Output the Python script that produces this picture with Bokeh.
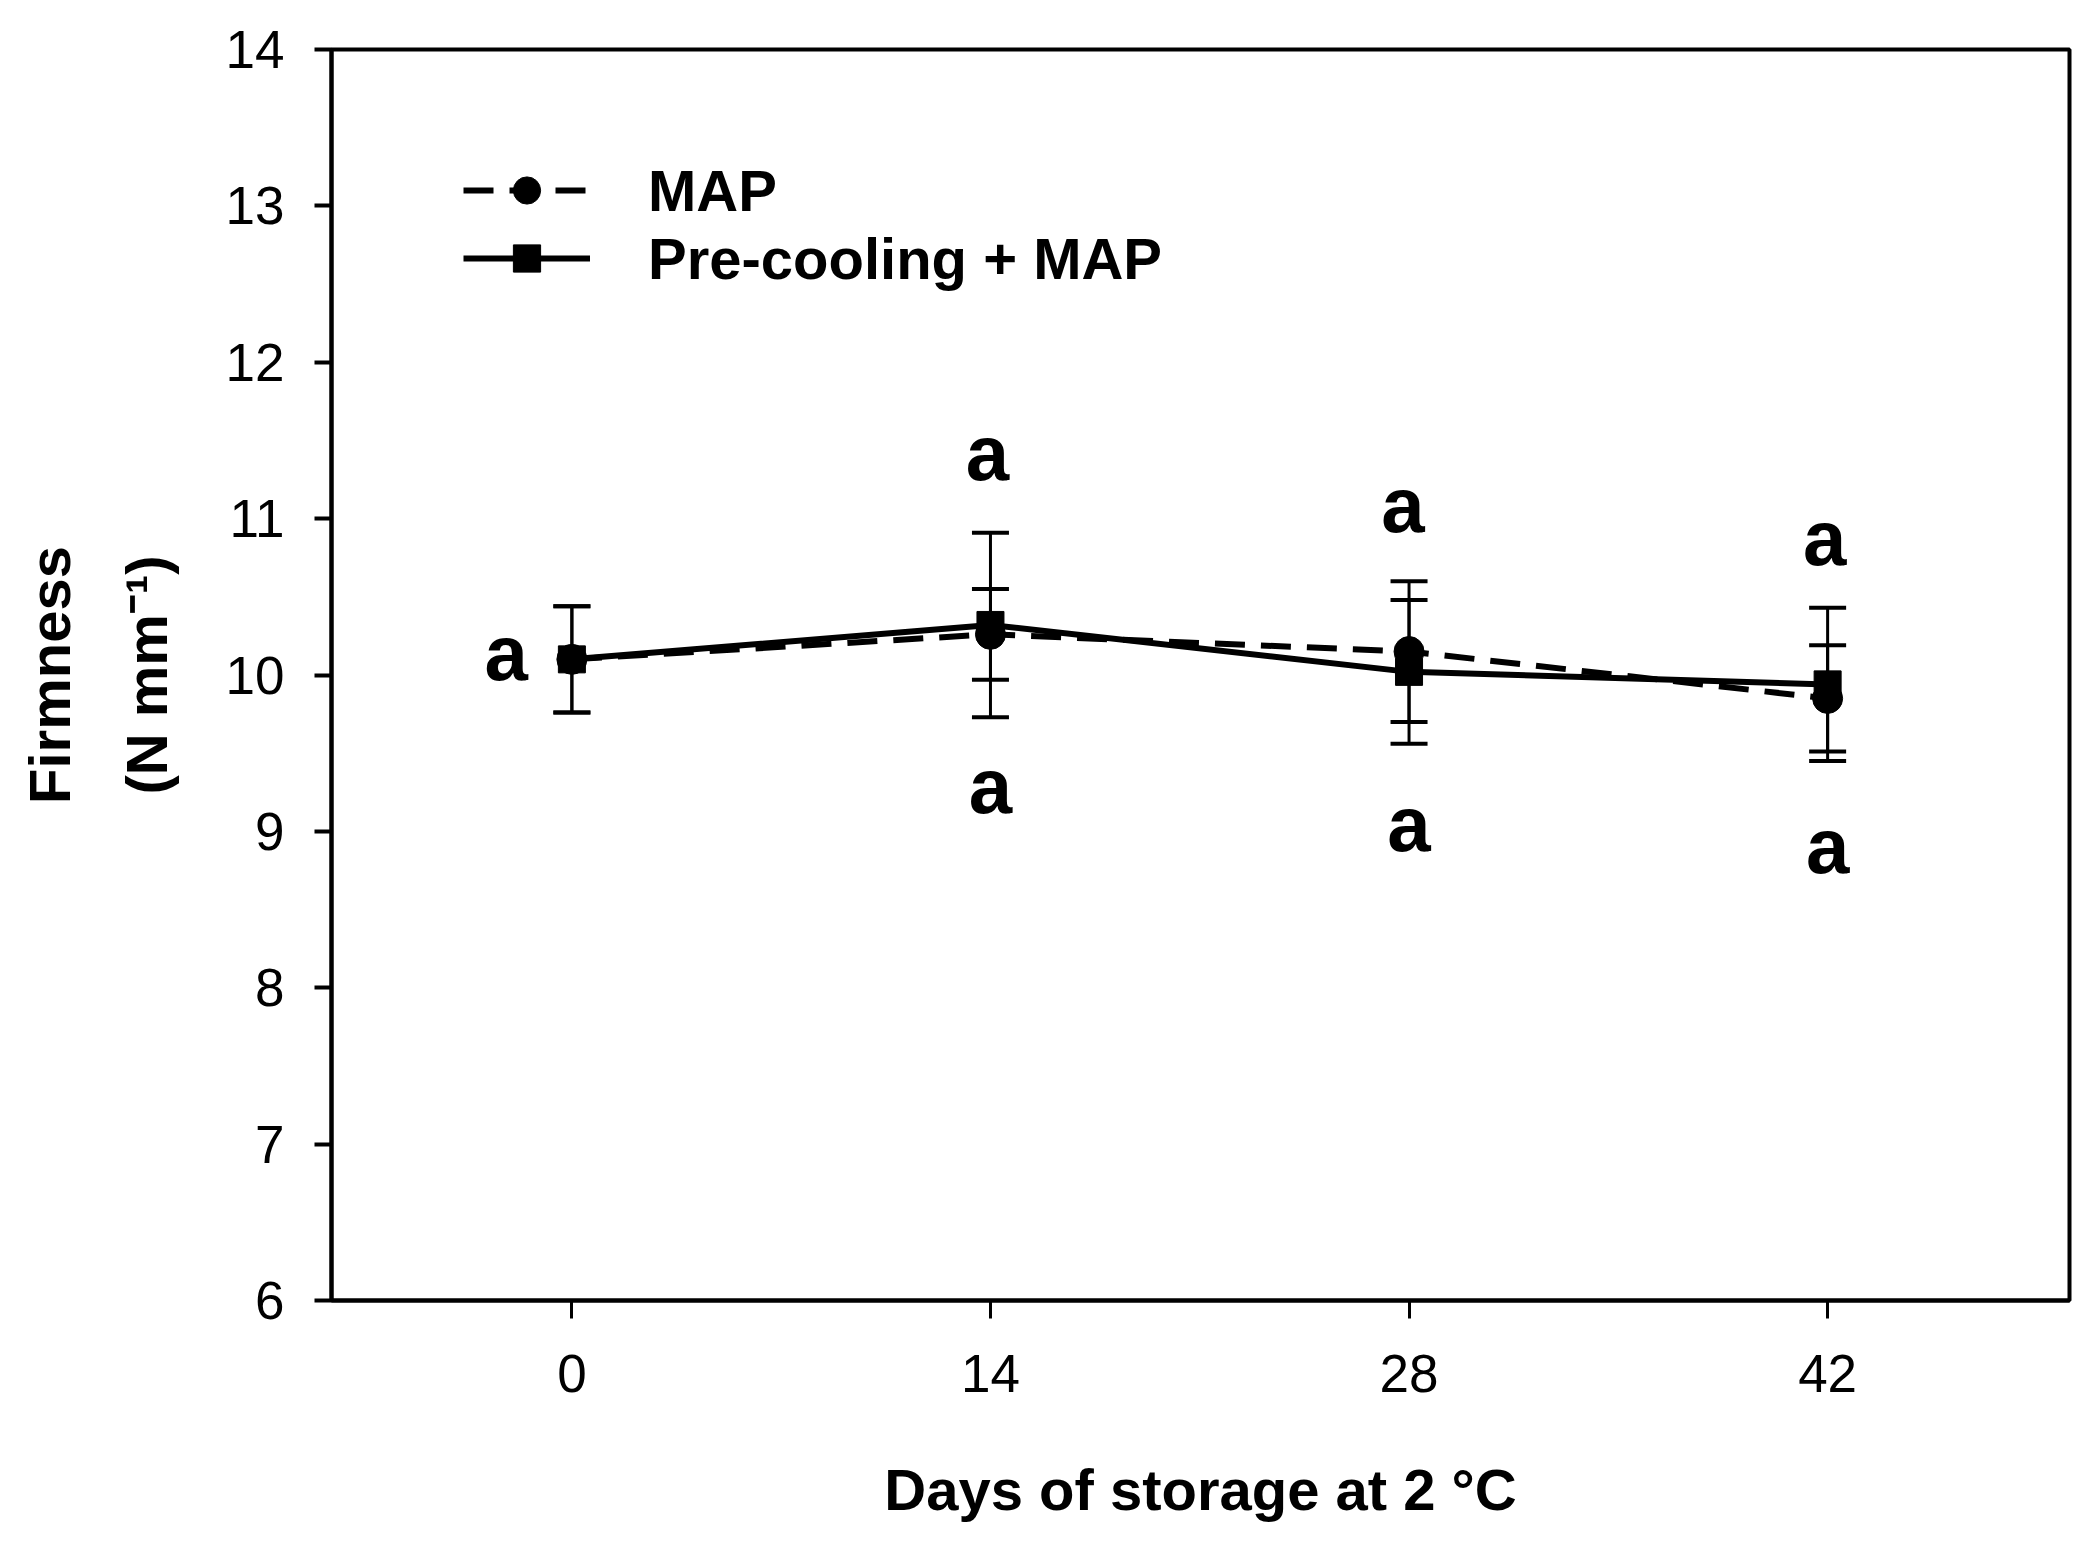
from bokeh.plotting import figure
from bokeh.models import (Whisker, TeeHead, ColumnDataSource, Legend, LegendItem,
                          FixedTicker, Range1d)
from bokeh.core.properties import value
from bokeh.embed import file_html
from bokeh.resources import INLINE

# ---- data ----
days = [0, 14, 28, 42]
map_mean = [10.10, 10.26, 10.15, 9.85]
map_err = [0.34, 0.29, 0.45, 0.34]
pre_mean = [10.10, 10.32, 10.02, 9.94]
pre_err = [0.34, 0.59, 0.46, 0.49]

letter_x = [-2.2, 13.9, 27.8, 41.9, 14.0, 28.0, 42.0]
letter_y = [10.10, 11.38, 11.05, 10.84, 9.25, 9.01, 8.87]
letter_t = ["a", "a", "a", "a", "a", "a", "a"]

x_ticks = [0, 14, 28, 42]
y_ticks = [6, 7, 8, 9, 10, 11, 12, 13, 14]

FONT = "Liberation Sans"

p = figure(width=2081, height=1526, output_backend="svg", toolbar_location=None,
           x_range=Range1d(-8.04, 50.09), y_range=Range1d(6, 14),
           min_border_left=331, min_border_right=12, min_border_top=49,
           min_border_bottom=226)

p.xgrid.visible = False
p.ygrid.visible = False
p.outline_line_color = "black"
p.outline_line_width = 4
p.outline_line_alpha = 1.0
p.background_fill_color = "white"
p.border_fill_color = "white"

for ax in (p.xaxis[0], p.yaxis[0]):
    ax.axis_line_width = 4
    ax.axis_line_color = "black"
    ax.major_tick_line_color = "black"
    ax.minor_tick_line_color = None
    ax.major_tick_in = 0
    ax.major_label_text_font = FONT
    ax.major_label_text_font_size = "53px"
    ax.major_label_text_color = "black"
    ax.axis_label_text_font = FONT
    ax.axis_label_text_font_size = "58px"
    ax.axis_label_text_font_style = "bold"
    ax.axis_label_text_color = "black"

p.xaxis.ticker = FixedTicker(ticks=x_ticks)
p.yaxis.ticker = FixedTicker(ticks=y_ticks)
p.xaxis.major_tick_out = 18
p.xaxis.major_tick_line_width = 3
p.yaxis.major_tick_out = 17
p.yaxis.major_tick_line_width = 4
p.xaxis.major_label_standoff = 36
p.yaxis.major_label_standoff = 30
p.xaxis.axis_label = "Days of storage at 2 \u00b0C"
p.xaxis.axis_label_standoff = 62
p.yaxis.axis_label = "Firmness\n(N mm\u207b\u00b9)"
p.yaxis.axis_label_text_line_height = 1.48
p.yaxis.axis_label_standoff = 44

# error bars
src_map = ColumnDataSource(dict(x=days, y=map_mean,
                                lo=[m - e for m, e in zip(map_mean, map_err)],
                                hi=[m + e for m, e in zip(map_mean, map_err)]))
src_pre = ColumnDataSource(dict(x=days, y=pre_mean,
                                lo=[m - e for m, e in zip(pre_mean, pre_err)],
                                hi=[m + e for m, e in zip(pre_mean, pre_err)]))
for src in (src_map, src_pre):
    w = Whisker(source=src, base="x", upper="hi", lower="lo",
                line_color="black", line_width=3,
                upper_head=TeeHead(size=37, line_width=4, line_color="black"),
                lower_head=TeeHead(size=37, line_width=4, line_color="black"))
    p.add_layout(w)

r1 = p.line("x", "y", source=src_map, line_color="black", line_width=6, line_dash="30 16")
r1m = p.scatter("x", "y", source=src_map, marker="circle", size=30,
                fill_color="black", line_color="black")
r2 = p.line("x", "y", source=src_pre, line_color="black", line_width=6)
r2m = p.scatter("x", "y", source=src_pre, marker="square", size=27,
                fill_color="black", line_color="black")

src_txt = ColumnDataSource(dict(x=letter_x, y=letter_y, t=letter_t))
p.text("x", "y", text="t", source=src_txt, text_font=value(FONT),
       text_font_style="bold", text_font_size="78px", text_align="center",
       text_baseline="alphabetic", y_offset=-6, text_color="black")

legend = Legend(items=[LegendItem(label="MAP", renderers=[r1, r1m]),
                       LegendItem(label="Pre-cooling + MAP", renderers=[r2, r2m])],
                location=(132, 1008), orientation="vertical",
                glyph_width=127, glyph_height=68, label_height=68,
                label_standoff=58, spacing=0, padding=0, margin=0,
                border_line_alpha=0, background_fill_alpha=0,
                label_text_font=FONT, label_text_font_size="58px",
                label_text_font_style="bold", label_text_color="black")
p.add_layout(legend)

open("out.html", "w").write(file_html(p, INLINE))
